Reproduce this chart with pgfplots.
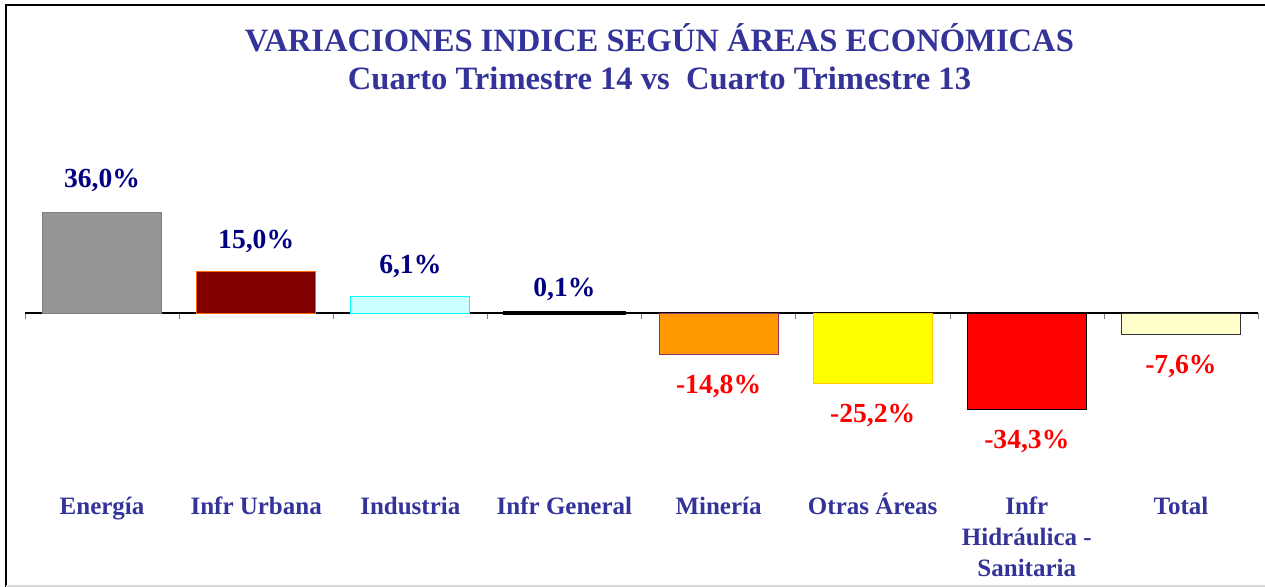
\documentclass[border=0pt]{standalone}
\usepackage{pgfplots}
\pgfplotsset{compat=1.18}
\usepackage{fontspec}
\setmainfont{Liberation Serif}
\definecolor{titleblue}{HTML}{333399}
\definecolor{posnavy}{HTML}{000080}
\definecolor{c1}{HTML}{969696}
\definecolor{c1d}{HTML}{808080}
\definecolor{c2}{HTML}{800000}
\definecolor{c2d}{HTML}{FF6600}
\definecolor{c3}{HTML}{CCFFFF}
\definecolor{c3d}{HTML}{00FFFF}
\definecolor{c5}{HTML}{FF9900}
\definecolor{c5d}{HTML}{993366}
\definecolor{c6}{HTML}{FFFF00}
\definecolor{c6d}{HTML}{FFCC00}
\definecolor{c7}{HTML}{FF0000}
\definecolor{c8}{HTML}{FFFFCC}
\newcommand{\st}{\rule{0pt}{12pt}}
\begin{document}
\begin{tikzpicture}
\useasboundingbox (0pt,0pt) rectangle (632.5pt,293.5pt);
\draw[line width=1pt] (3pt,0pt) -- (3pt,291pt) -- (632.5pt,291pt);
\draw[line width=0.6pt, black!15] (3pt,0.5pt) -- (632.5pt,0.5pt);
\node[font=\bfseries\fontsize{16.3}{19}\selectfont, text=titleblue, align=center] at (329.75pt,265pt) {VARIACIONES INDICE SEGÚN ÁREAS ECONÓMICAS\\Cuarto Trimestre 14 vs\ \ Cuarto Trimestre 13};
\begin{axis}[
  at={(12.5pt,58.4pt)}, anchor=south west,
  scale only axis, width=616.5pt, height=175.4pt,
  xmin=-0.5, xmax=7.5, ymin=-56, ymax=69,
  axis x line=middle, axis y line=none,
  axis line style={-, black, line width=0.6pt},
  xtick={0,...,7},
  xticklabels={\st Energía,\st Infr Urbana,\st Industria,\st Infr General,\st Minería,\st Otras Áreas,{\st Infr\\Hidráulica -\\Sanitaria},\st Total},
  major tick length=0pt,
  minor xtick={-0.5,0.5,...,7.5},
  minor tick length=3pt,
  xtick align=outside,
  xticklabel style={yshift=-85pt, anchor=north, align=center, text=titleblue, font=\bfseries\fontsize{12.5}{15.5}\selectfont},
  /pgf/number format/assume math mode=true,
  nodes near coords={\pgfmathprintnumber[fixed,fixed zerofill,precision=1,use comma]{\pgfplotspointmeta}\%},
  every node near coord/.append style={inner ysep=10pt, font=\bfseries\fontsize{13.8}{16}\selectfont},
  clip=false,
]
\addplot[ybar, bar width=0.772, fill=c1, draw=c1d, nodes near coords style={text=posnavy}] coordinates {(0,36.0)};
\addplot[ybar, bar width=0.772, fill=c2, draw=c2d, nodes near coords style={text=posnavy, inner ysep=9pt}] coordinates {(1,15.0)};
\addplot[ybar, bar width=0.772, fill=c3, draw=c3d, nodes near coords style={text=posnavy, inner ysep=9pt}] coordinates {(2,6.1)};
\addplot[ybar, bar width=0.772, fill=c5, draw=c5d, nodes near coords style={text=red}] coordinates {(4,-14.8)};
\addplot[ybar, bar width=0.772, fill=c6, draw=c6d, nodes near coords style={text=red}] coordinates {(5,-25.2)};
\addplot[ybar, bar width=0.772, fill=c7, draw=black, nodes near coords style={text=red}] coordinates {(6,-34.3)};
\addplot[ybar, bar width=0.772, fill=c8, draw=black!80, nodes near coords style={text=red}] coordinates {(7,-7.6)};
\addplot[ybar, bar width=0.772, fill=black, draw=black, line width=1.6pt, nodes near coords style={text=posnavy, inner ysep=5pt}] coordinates {(3,0.1)};
\end{axis}
\end{tikzpicture}
\end{document}
